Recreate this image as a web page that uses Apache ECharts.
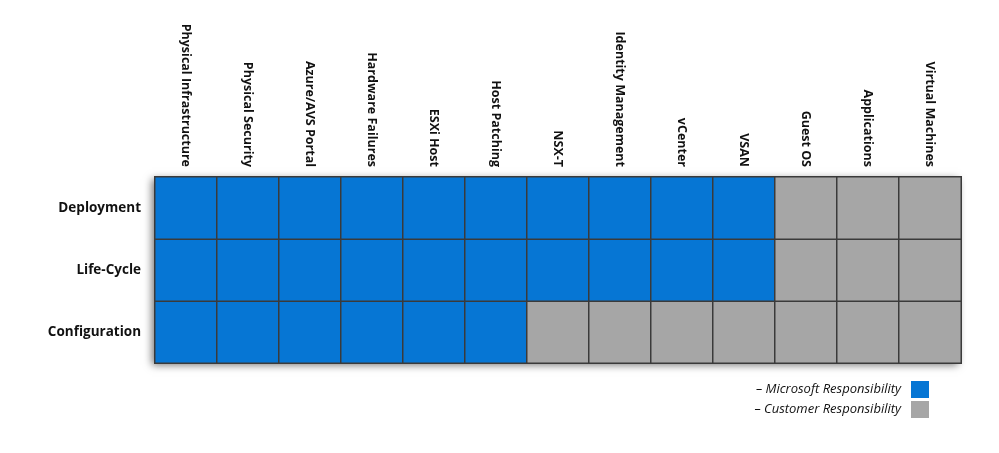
<!DOCTYPE html>
<html><head><meta charset="utf-8">
<script src="https://cdn.jsdelivr.net/npm/echarts@6/dist/echarts.min.js"></script>
<style>html,body{margin:0;padding:0;background:#fff}#c{width:999px;height:453px}</style>
</head><body><div id="c"></div>
<script>
const categories = ["Physical Infrastructure","Physical Security","Azure/AVS Portal","Hardware Failures","ESXi Host","Host Patching","NSX-T","Identity Management","vCenter","VSAN","Guest OS","Applications","Virtual Machines"];
const rows = ["Configuration","Life-Cycle","Deployment"];
// 1 = Microsoft, 0 = Customer
const deployment    = [1,1,1,1,1,1,1,1,1,1,0,0,0];
const lifeCycle     = [1,1,1,1,1,1,1,1,1,1,0,0,0];
const configuration = [1,1,1,1,1,1,0,0,0,0,0,0,0];
const rowValues = [configuration, lifeCycle, deployment];
const data = [];
rowValues.forEach((r, yi) => r.forEach((v, xi) => data.push([xi, yi, v])));
const font = "Open Sans";
const chart = echarts.init(document.getElementById('c'));
chart.setOption({
  animation: false,
  grid: {left:155, right:38, top:177, bottom:90, show:true, backgroundColor:'#fff', borderWidth:0,
         shadowBlur:8, shadowColor:'rgba(0,0,0,0.55)', shadowOffsetX:-3, shadowOffsetY:2},
  xAxis: {type:'category', data:categories, position:'top',
    axisLine:{show:false}, axisTick:{show:false}, splitLine:{show:false},
    axisLabel:{rotate:90, margin:10, fontFamily:font, fontWeight:'bold', fontSize:12.5, color:'#111'}},
  yAxis: {type:'category', data:rows,
    axisLine:{show:false}, axisTick:{show:false},
    axisLabel:{margin:14, fontFamily:font, fontWeight:'bold', fontSize:13.5, color:'#111'}},
  visualMap: {type:'piecewise', dimension:2, orient:'vertical', right:55, bottom:20,
    itemWidth:18, itemHeight:17, itemGap:3, itemSymbol:'rect',
    textStyle:{fontFamily:font, fontStyle:'italic', fontSize:13, color:'#111'},
    pieces:[{value:1, label:'– Microsoft Responsibility', color:'#0676D4'},
            {value:0, label:'– Customer Responsibility', color:'#A6A6A6'}]},
  series: [{type:'heatmap', data:data,
    itemStyle:{borderColor:'#3a3a3a', borderWidth:1.5}}]
});
</script></body></html>
